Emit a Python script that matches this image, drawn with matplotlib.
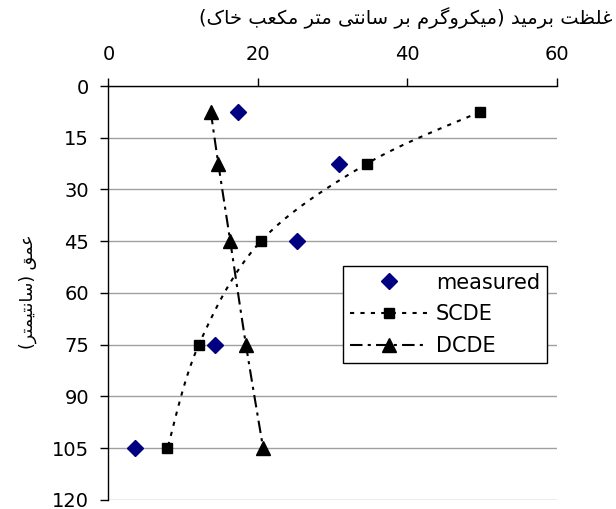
import numpy as np
import matplotlib
matplotlib.use("Agg")
import matplotlib.pyplot as plt
from matplotlib.lines import Line2D

# depth (cm) and bromide concentration values
depth = [7.5, 22.5, 45, 75, 105]
measured = [17.3, 30.9, 25.2, 14.3, 3.6]
scde = [49.7, 34.6, 20.4, 12.1, 7.9]
dcde = [13.7, 14.7, 16.3, 18.4, 20.7]
x_ticks = [0, 20, 40, 60]
y_ticks = [0, 15, 30, 45, 60, 75, 90, 105, 120]
series_names = ['measured', 'SCDE', 'DCDE']
xlabel_fa = 'غلظت برمید (میکروگرم بر سانتی متر مکعب خاک)'
ylabel_fa = 'عمق (سانتیمتر)'

# matplotlib has no Arabic shaping / bidi, so do it by hand:
# presentation forms (isolated, final, initial, medial)
FORMS = {
    'ا': (0xFE8D, 0xFE8E, None, None), 'ب': (0xFE8F, 0xFE90, 0xFE91, 0xFE92),
    'ت': (0xFE95, 0xFE96, 0xFE97, 0xFE98), 'خ': (0xFEA5, 0xFEA6, 0xFEA7, 0xFEA8),
    'د': (0xFEA9, 0xFEAA, None, None), 'ر': (0xFEAD, 0xFEAE, None, None),
    'س': (0xFEB1, 0xFEB2, 0xFEB3, 0xFEB4), 'ظ': (0xFEC5, 0xFEC6, 0xFEC7, 0xFEC8),
    'ع': (0xFEC9, 0xFECA, 0xFECB, 0xFECC), 'غ': (0xFECD, 0xFECE, 0xFECF, 0xFED0),
    'ق': (0xFED5, 0xFED6, 0xFED7, 0xFED8), 'ل': (0xFEDD, 0xFEDE, 0xFEDF, 0xFEE0),
    'م': (0xFEE1, 0xFEE2, 0xFEE3, 0xFEE4), 'ن': (0xFEE5, 0xFEE6, 0xFEE7, 0xFEE8),
    'و': (0xFEED, 0xFEEE, None, None), 'ک': (0xFB8E, 0xFB8F, 0xFB90, 0xFB91),
    'گ': (0xFB92, 0xFB93, 0xFB94, 0xFB95), 'ی': (0xFBFC, 0xFBFD, 0xFBFE, 0xFBFF),
}
RIGHT_ONLY = set('ادذرزژو')
MIRROR = {'(': ')', ')': '('}


def rtl(text):
    out = []
    for i, c in enumerate(text):
        if c not in FORMS:
            out.append(MIRROR.get(c, c))
            continue
        prev = text[i - 1] if i > 0 else None
        nxt = text[i + 1] if i + 1 < len(text) else None
        jp = prev in FORMS and prev not in RIGHT_ONLY
        jn = nxt in FORMS and c not in RIGHT_ONLY
        f = FORMS[c]
        g = f[3] if (jp and jn) else f[1] if jp else f[2] if jn else f[0]
        out.append(chr(g))
    return ''.join(out)[::-1]


def smooth(xs, ys, sx=7.47, sy=3.46, n=30):
    # Catmull-Rom curve through the points, like Excel's smoothed line
    p = np.column_stack([np.array(xs) * sx, np.array(ys) * sy])
    p = np.vstack([p[0], p, p[-1]])
    pts = []
    for i in range(1, len(p) - 2):
        p0, p1, p2, p3 = p[i - 1], p[i], p[i + 1], p[i + 2]
        t = np.linspace(0, 1, n)[:, None]
        c = 0.5 * ((2 * p1) + (-p0 + p2) * t + (2 * p0 - 5 * p1 + 4 * p2 - p3) * t ** 2
                   + (-p0 + 3 * p1 - 3 * p2 + p3) * t ** 3)
        pts.append(c)
    pts = np.vstack(pts)
    return pts[:, 0] / sx, pts[:, 1] / sy


plt.rcParams['font.family'] = ['DejaVu Sans']

fig = plt.figure(figsize=(6.16, 5.09), dpi=100)
ax = fig.add_axes([0.176, 0.018, 0.728, 0.813])

ax.set_xlim(0, 60)
ax.set_ylim(120, 0)
ax.set_xticks(x_ticks)
ax.set_yticks(y_ticks)
ax.xaxis.tick_top()
ax.tick_params(axis='both', labelsize=14, length=6, width=1, color='black')
ax.tick_params(axis='x', pad=10)
ax.tick_params(axis='y', pad=8)
ax.grid(axis='y', color='#a0a0a0', lw=1)
ax.set_axisbelow(True)
for s in ['right', 'bottom']:
    ax.spines[s].set_visible(False)
for s in ['top', 'left']:
    ax.spines[s].set_linewidth(1)

sdash = (0, (2, 3))
ddash = (0, (6, 2.5, 1.5, 2.5))

xs, ys = smooth(scde, depth)
ax.plot(xs, ys, color='black', lw=1.5, ls=sdash)
ax.plot(scde, depth, 's', color='black', ms=7.5)
xd, yd = smooth(dcde, depth)
ax.plot(xd, yd, color='black', lw=1.5, ls=ddash)
ax.plot(dcde, depth, '^', color='black', ms=9.5)
ax.plot(measured, depth, 'D', color='#000080', ms=8, ls='none')

handles = [
    Line2D([], [], marker='D', color='#000080', ms=8, ls='none'),
    Line2D([], [], marker='s', color='black', ms=7.5, lw=1.5, ls=sdash),
    Line2D([], [], marker='^', color='black', ms=9.5, lw=1.5, ls=ddash),
]
leg = ax.legend(handles, series_names, loc='upper right',
                bbox_to_anchor=(0.978, 0.566), borderaxespad=0, fontsize=15,
                frameon=True, fancybox=False, edgecolor='black', framealpha=1,
                handlelength=3.7, handletextpad=0.4, borderpad=0.34,
                labelspacing=0.56)
leg.get_frame().set_linewidth(1)

fig.text(0.995, 1 - 18 / 509, rtl(xlabel_fa), ha='right', va='center', fontsize=14)
fig.text(0.045, 1 - 292 / 509, rtl(ylabel_fa), ha='center', va='center', rotation=90, fontsize=12.5)

fig.savefig('out.png', dpi=100)
